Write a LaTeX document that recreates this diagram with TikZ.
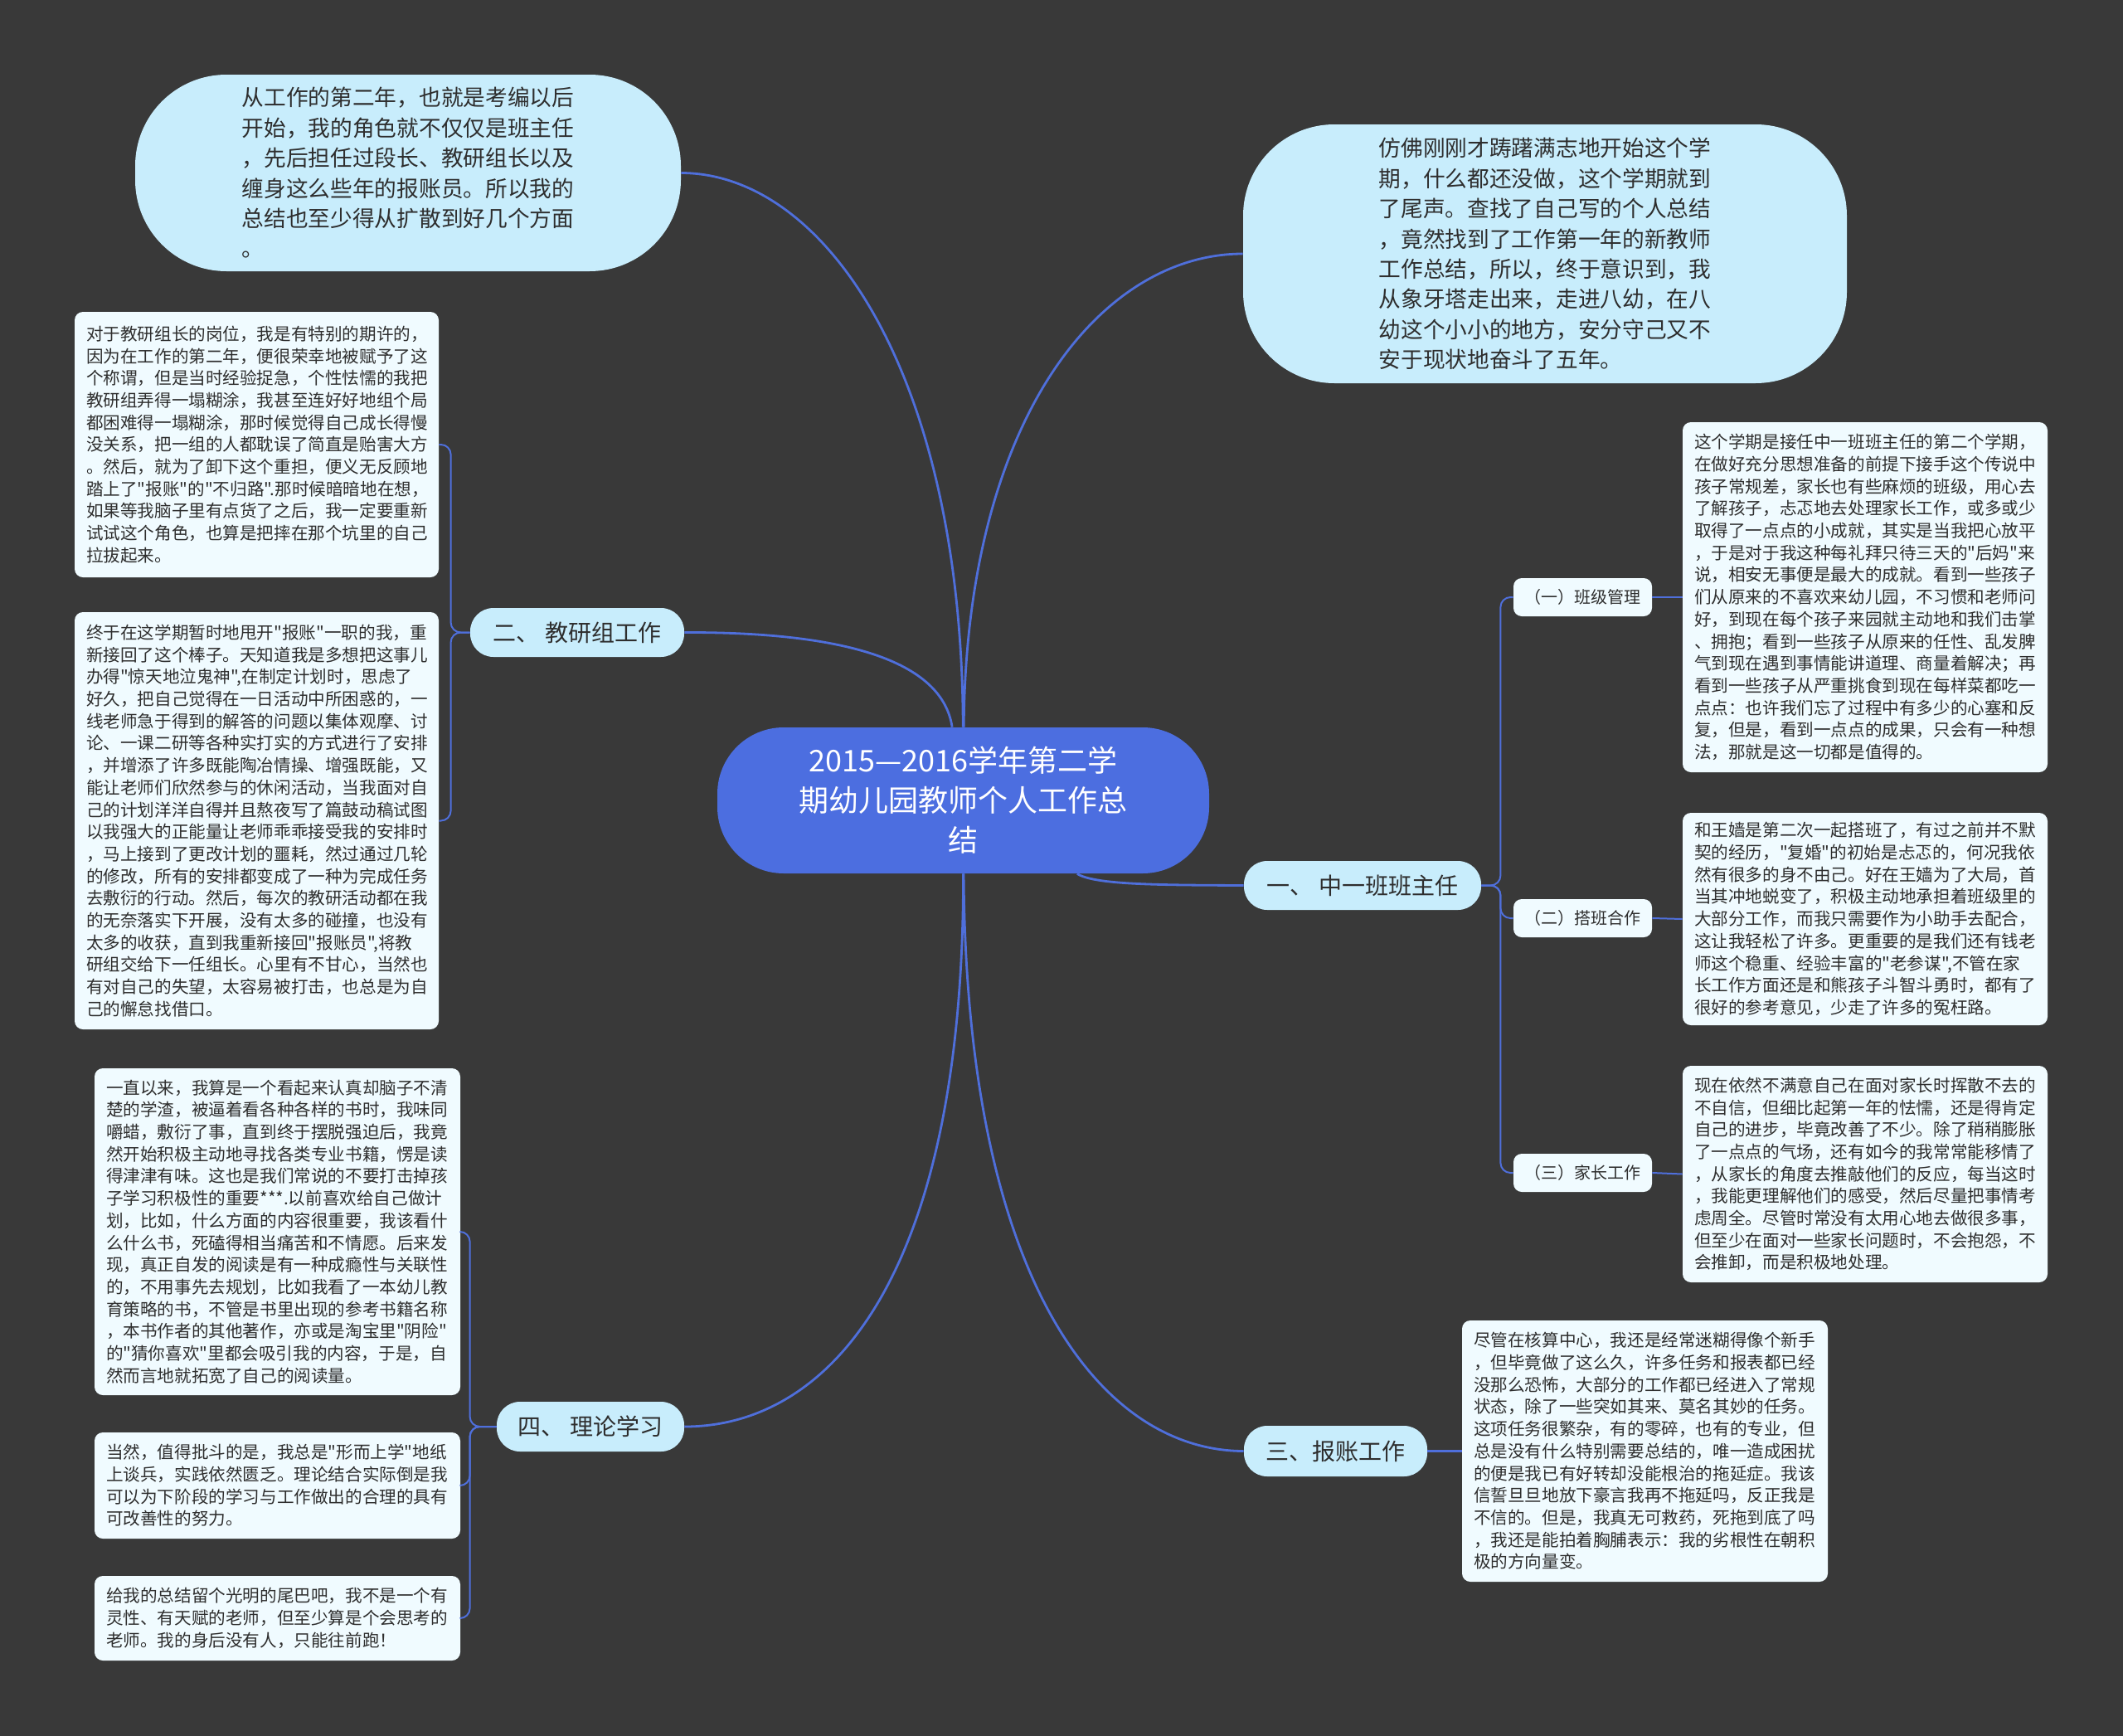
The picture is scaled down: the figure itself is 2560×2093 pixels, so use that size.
\documentclass[tikz,border=0pt]{standalone}
\usepackage{fontspec}
\newfontfamily\cjkf{Noto Sans CJK SC}
\definecolor{bgc}{HTML}{393939}
\definecolor{cfill}{HTML}{4C6EE0}
\definecolor{lnk}{HTML}{4F6FDB}
\definecolor{lfill}{HTML}{C8EDFC}
\definecolor{dfill}{HTML}{F0FBFF}
\definecolor{txt}{HTML}{2E2E2E}
\begin{document}
\begin{tikzpicture}[x=0.5pt,y=-0.5pt,
  centernode/.style={fill=cfill, text=white, rounded corners=40pt, align=center, inner sep=0pt,
    font=\cjkf\fontsize{18pt}{24pt}\selectfont},
  bubble/.style={fill=lfill, text=txt, rounded corners=55pt, align=left, inner sep=0pt,
    font=\cjkf\fontsize{13.35pt}{18.2pt}\selectfont},
  branch/.style={fill=lfill, text=txt, rounded corners=14pt, inner xsep=0pt, inner ysep=0pt,
    font=\cjkf\fontsize{14pt}{16pt}\selectfont},
  subbranch/.style={fill=dfill, text=txt, rounded corners=5pt, inner xsep=0pt, inner ysep=0pt,
    minimum width=83.5pt, minimum height=23pt, font=\cjkf\fontsize{10pt}{12pt}\selectfont},
  detail/.style={fill=dfill, text=txt, rounded corners=5pt, inner xsep=7pt, inner ysep=3pt,
    align=left, font=\cjkf\fontsize{10.3pt}{13.35pt}\selectfont},
  mainlink/.style={draw=lnk, line width=1.4pt},
  sublink/.style={draw=lnk, line width=1pt, rounded corners=6pt}
]
\useasboundingbox (0,0) rectangle (2560,2093);
\fill[bgc] (0,0) rectangle (2560,2093);

% center
\node[centernode, minimum width=296.5pt, minimum height=88pt] (c) at (1161.5,965)
  {2015—2016学年第二学\\期幼儿园教师个人工作总\\结};

% top bubbles
\node[bubble, minimum width=329pt, minimum height=118.5pt] (tl) at (492,208.5)
  {从工作的第二年，也就是考编以后\\开始，我的角色就不仅仅是班主任\\，先后担任过段长、教研组长以及\\缠身这么些年的报账员。所以我的\\总结也至少得从扩散到好几个方面\\。};
\node[bubble, minimum width=364pt, minimum height=156pt] (tr) at (1863,306)
  {仿佛刚刚才踌躇满志地开始这个学\\期，什么都还没做，这个学期就到\\了尾声。查找了自己写的个人总结\\，竟然找到了工作第一年的新教师\\工作总结，所以，终于意识到，我\\从象牙塔走出来，走进八幼，在八\\幼这个小小的地方，安分守己又不\\安于现状地奋斗了五年。};

% branches
\node[branch, minimum width=129pt, minimum height=29.5pt] (k2) at (696,762.5) {二、 教研组工作};
\node[branch, minimum width=113pt, minimum height=30pt] (k4) at (712,1720) {四、 理论学习};
\node[branch, minimum width=143pt, minimum height=29.5pt] (k1) at (1643,1067.5) {一、 中一班班主任};
\node[branch, minimum width=110.5pt, minimum height=30.5pt] (k3) at (1610.5,1749.5) {三、报账工作};

% sub branches
\node[subbranch] (s1) at (1908.5,720) {（一）班级管理};
\node[subbranch] (s2) at (1908.5,1107) {（二）搭班合作};
\node[subbranch] (s3) at (1908.5,1414) {（三）家长工作};

% left details
\node[detail, text width=205.5pt, minimum height=160pt] (L1) at (309.5,536)
  {对于教研组长的岗位，我是有特别的期许的，\\因为在工作的第二年，便很荣幸地被赋予了这\\个称谓，但是当时经验捉急，个性怯懦的我把\\教研组弄得一塌糊涂，我甚至连好好地组个局\\都困难得一塌糊涂，那时候觉得自己成长得慢\\没关系，把一组的人都耽误了简直是贻害大方\\。然后，就为了卸下这个重担，便义无反顾地\\踏上了"报账"的"不归路".那时候暗暗地在想，\\如果等我脑子里有点货了之后，我一定要重新\\试试这个角色，也算是把摔在那个坑里的自己\\拉拔起来。};
\node[detail, text width=205.5pt, minimum height=251.5pt] (L2) at (309.5,989.5)
  {终于在这学期暂时地甩开"报账"一职的我，重\\新接回了这个棒子。天知道我是多想把这事儿\\办得"惊天地泣鬼神",在制定计划时，思虑了\\好久，把自己觉得在一日活动中所困惑的，一\\线老师急于得到的解答的问题以集体观摩、讨\\论、一课二研等各种实打实的方式进行了安排\\，并增添了许多既能陶冶情操、增强既能，又\\能让老师们欣然参与的休闲活动，当我面对自\\己的计划洋洋自得并且熬夜写了篇鼓动稿试图\\以我强大的正能量让老师乖乖接受我的安排时\\，马上接到了更改计划的噩耗，然过通过几轮\\的修改，所有的安排都变成了一种为完成任务\\去敷衍的行动。然后，每次的教研活动都在我\\的无奈落实下开展，没有太多的碰撞，也没有\\太多的收获，直到我重新接回"报账员",将教\\研组交给下一任组长。心里有不甘心，当然也\\有对自己的失望，太容易被打击，也总是为自\\己的懈怠找借口。};
\node[detail, text width=206.5pt, minimum height=197pt] (L3) at (334.5,1485)
  {一直以来，我算是一个看起来认真却脑子不清\\楚的学渣，被逼着看各种各样的书时，我味同\\嚼蜡，敷衍了事，直到终于摆脱强迫后，我竟\\然开始积极主动地寻找各类专业书籍，愣是读\\得津津有味。这也是我们常说的不要打击掉孩\\子学习积极性的重要***.以前喜欢给自己做计\\划，比如，什么方面的内容很重要，我该看什\\么什么书，死磕得相当痛苦和不情愿。后来发\\现，真正自发的阅读是有一种成瘾性与关联性\\的，不用事先去规划，比如我看了一本幼儿教\\育策略的书，不管是书里出现的参考书籍名称\\，本书作者的其他著作，亦或是淘宝里"阴险"\\的"猜你喜欢"里都会吸引我的内容，于是，自\\然而言地就拓宽了自己的阅读量。};
\node[detail, text width=206.5pt, minimum height=64pt] (L4) at (334.5,1791)
  {当然，值得批斗的是，我总是"形而上学"地纸\\上谈兵，实践依然匮乏。理论结合实际倒是我\\可以为下阶段的学习与工作做出的合理的具有\\可改善性的努力。};
\node[detail, text width=206.5pt, minimum height=51pt] (L5) at (334.5,1951)
  {给我的总结留个光明的尾巴吧，我不是一个有\\灵性、有天赋的老师，但至少算是个会思考的\\老师。我的身后没有人，只能往前跑！};

% right details
\node[detail, text width=206pt, minimum height=211pt] (R1) at (2249,720)
  {这个学期是接任中一班班主任的第二个学期，\\在做好充分思想准备的前提下接手这个传说中\\孩子常规差，家长也有些麻烦的班级，用心去\\了解孩子，忐忑地去处理家长工作，或多或少\\取得了一点点的小成就，其实是当我把心放平\\，于是对于我这种每礼拜只待三天的"后妈"来\\说，相安无事便是最大的成就。看到一些孩子\\们从原来的不喜欢来幼儿园，不习惯和老师问\\好，到现在每个孩子来园就主动地和我们击掌\\、拥抱；看到一些孩子从原来的任性、乱发脾\\气到现在遇到事情能讲道理、商量着解决；再\\看到一些孩子从严重挑食到现在每样菜都吃一\\点点：也许我们忘了过程中有多少的心塞和反\\复，但是，看到一点点的成果，只会有一种想\\法，那就是这一切都是值得的。};
\node[detail, text width=206pt, minimum height=128pt] (R2) at (2249,1108)
  {和王嫱是第二次一起搭班了，有过之前并不默\\契的经历，"复婚"的初始是忐忑的，何况我依\\然有很多的身不由己。好在王嫱为了大局，首\\当其冲地蜕变了，积极主动地承担着班级里的\\大部分工作，而我只需要作为小助手去配合，\\这让我轻松了许多。更重要的是我们还有钱老\\师这个稳重、经验丰富的"老参谋",不管在家\\长工作方面还是和熊孩子斗智斗勇时，都有了\\很好的参考意见，少走了许多的冤枉路。};
\node[detail, text width=206pt, minimum height=130.5pt] (R3) at (2249,1415.5)
  {现在依然不满意自己在面对家长时挥散不去的\\不自信，但细比起第一年的怯懦，还是得肯定\\自己的进步，毕竟改善了不少。除了稍稍膨胀\\了一点点的气场，还有如今的我常常能移情了\\，从家长的角度去推敲他们的反应，每当这时\\，我能更理解他们的感受，然后尽量把事情考\\虑周全。尽管时常没有太用心地去做很多事，\\但至少在面对一些家长问题时，不会抱怨，不\\会推卸，而是积极地处理。};
\node[detail, text width=206.5pt, minimum height=157.5pt] (B) at (1983.5,1749.5)
  {尽管在核算中心，我还是经常迷糊得像个新手\\，但毕竟做了这么久，许多任务和报表都已经\\没那么恐怖，大部分的工作都已经进入了常规\\状态，除了一些突如其来、莫名其妙的任务。\\这项任务很繁杂，有的零碎，也有的专业，但\\总是没有什么特别需要总结的，唯一造成困扰\\的便是我已有好转却没能根治的拖延症。我该\\信誓旦旦地放下豪言我再不拖延吗，反正我是\\不信的。但是，我真无可救药，死拖到底了吗\\，我还是能拍着胸脯表示：我的劣根性在朝积\\极的方向量变。};

% main connectors
\draw[mainlink] (c) .. controls (1160,450) and (995,209) .. (tl.east);
\draw[mainlink] (c) .. controls (1165,500) and (1330,306) .. (tr.west);
\draw[mainlink] (c) .. controls (1135,790) and (1000,762) .. (k2.east);
\draw[mainlink] (c) .. controls (1320,1067) and (1400,1067) .. (k1.west);
\draw[mainlink] (c) .. controls (1162,1550) and (995,1720) .. (k4.east);
\draw[mainlink] (c) .. controls (1165,1550) and (1330,1749) .. (k3.west);

% sub connectors
\draw[sublink] (k2.west) -- ++(-23,0) |- (L1.east);
\draw[sublink] (k2.west) -- ++(-23,0) |- (L2.east);
\draw[sublink] (k4.west) -- ++(-32,0) |- (L3.east);
\draw[sublink] (k4.west) -- ++(-32,0) |- (L4.east);
\draw[sublink] (k4.west) -- ++(-32,0) |- (L5.east);
\draw[sublink] (k1.east) -- ++(23,0) |- (s1.west);
\draw[sublink] (k1.east) -- ++(23,0) |- (s2.west);
\draw[sublink] (k1.east) -- ++(23,0) |- (s3.west);
\draw[sublink] (s1.east) -- (R1.west);
\draw[sublink] (s2.east) -- (R2.west);
\draw[sublink] (s3.east) -- (R3.west);
\draw[mainlink] (k3.east) -- (B.west);
\end{tikzpicture}
\end{document}
